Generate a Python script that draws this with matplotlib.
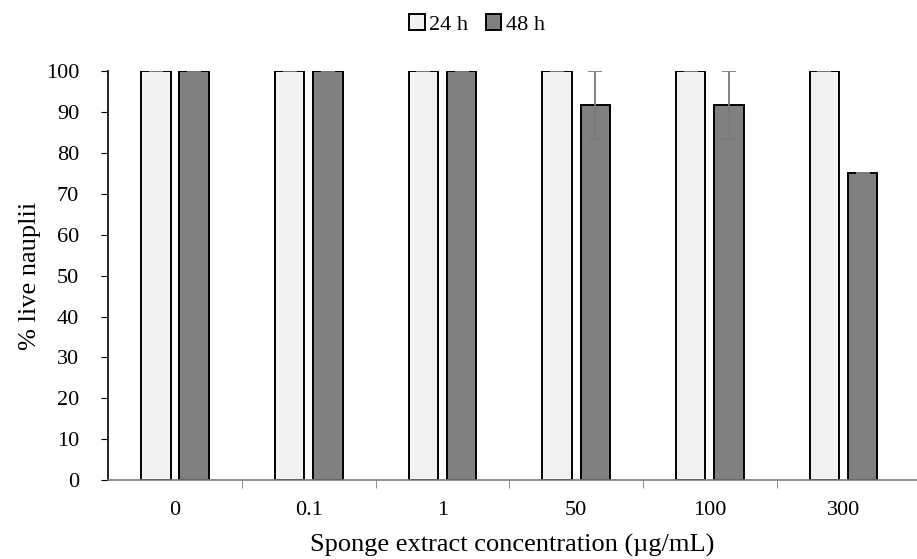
import matplotlib.pyplot as plt
import numpy as np

plt.rcParams['font.family'] = ['Liberation Serif', 'DejaVu Serif']

concs = ['0', '0.1', '1', '50', '100', '300']
live_24h = [100, 100, 100, 100, 100, 100]
live_48h = [100, 100, 100, 91.7, 91.7, 75]
err_24h = [0, 0, 0, 0, 0, 0]
err_48h = [0, 0, 0, 8.3, 8.3, 0]

fig = plt.figure(figsize=(9.17, 5.59), dpi=100)
ax = fig.add_axes([0.118, 0.141, 0.882, 0.732])

x = np.arange(len(concs))
w = 0.22
off = 0.143
ekw = dict(ecolor='#7a7a7a', elinewidth=1.3, capsize=5, capthick=1.3)
ax.bar(x - off, live_24h, w, color='#f2f2f2', edgecolor='black', linewidth=1.4,
       yerr=err_24h, error_kw=ekw, label='24 h', zorder=2)
ax.bar(x + off, live_48h, w, color='#808080', edgecolor='black', linewidth=1.4,
       yerr=err_48h, error_kw=ekw, label='48 h', zorder=2)

ax.set_xlim(-0.5, len(concs) - 0.45)
ax.set_ylim(0, 100)
ax.set_yticks(range(0, 101, 10))
ax.set_xticks(x)
ax.set_xticklabels(concs)
ax.set_xticks(np.arange(0.5, len(concs) - 0.5, 1), minor=True)
ax.tick_params(axis='x', which='major', length=0, pad=15, labelsize=16)
ax.tick_params(axis='x', which='minor', length=6, direction='out', color='#7a7a7a')
ax.tick_params(axis='y', length=5, direction='out', labelsize=16, pad=16)

for s in ['top', 'right']:
    ax.spines[s].set_visible(False)
ax.spines['left'].set_linewidth(1.2)
ax.spines['bottom'].set_color('#7a7a7a')
ax.spines['bottom'].set_linewidth(1.2)

ax.set_ylabel('% live nauplii', fontsize=19, labelpad=3)
ax.set_xlabel('Sponge extract concentration (µg/mL)', fontsize=19, labelpad=10)

fig.legend(loc='upper center', bbox_to_anchor=(0.52, 1.01), ncol=2, frameon=False,
           fontsize=16, handlelength=0.7, handleheight=0.7, handletextpad=0.2,
           columnspacing=0.8)

fig.savefig('out.png', dpi=100)
